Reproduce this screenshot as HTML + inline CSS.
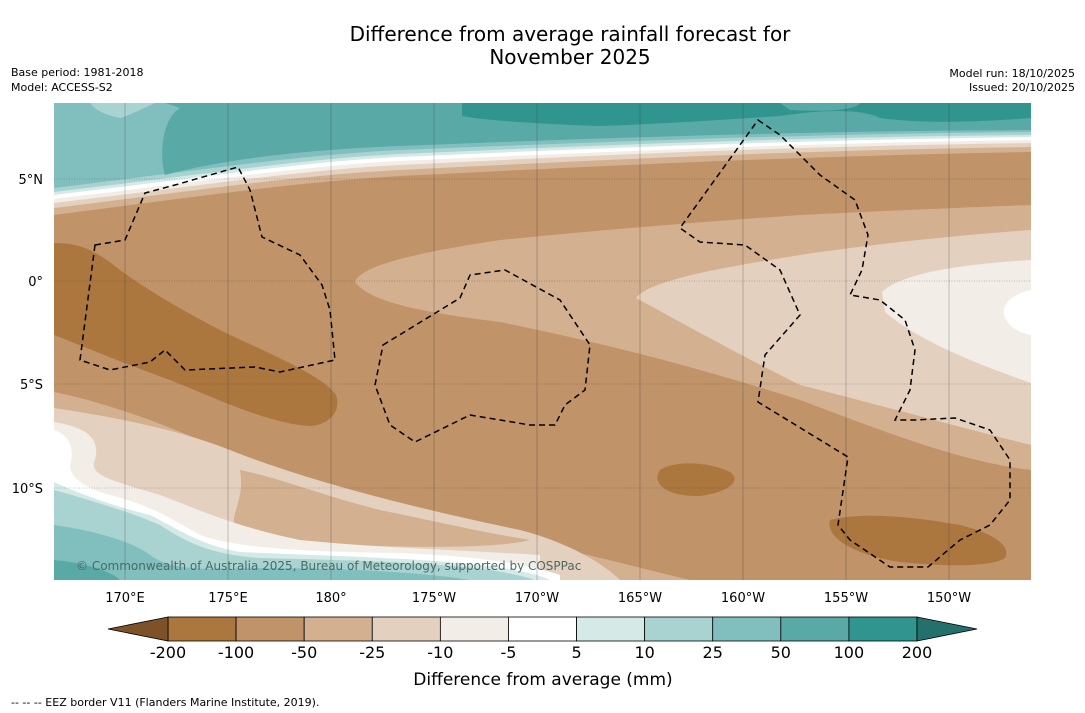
<!DOCTYPE html>
<html><head><meta charset="utf-8"><style>
body{margin:0;background:#fff;font-family:"DejaVu Sans","Liberation Sans",sans-serif;}
svg{display:block}
</style></head><body>
<svg id="root" width="1085" height="713" viewBox="0 0 1085 713" font-family="DejaVu Sans, Liberation Sans, sans-serif">
<text x="570" y="41" font-size="20" text-anchor="middle">Difference from average rainfall forecast for</text>
<text x="570" y="64" font-size="20" text-anchor="middle">November 2025</text>
<text x="11" y="76" font-size="11">Base period: 1981-2018</text>
<text x="11" y="91" font-size="11">Model: ACCESS-S2</text>
<text x="1075" y="77" font-size="11" text-anchor="end">Model run: 18/10/2025</text>
<text x="1075" y="91" font-size="11" text-anchor="end">Issued: 20/10/2025</text>
<defs><clipPath id="mc"><rect x="54" y="103" width="977" height="477"/></clipPath></defs>
<g clip-path="url(#mc)">
<rect x="54" y="103" width="977" height="477" fill="#c09368"/>
<path fill="#c09368" d="M54,215 C200,200 300,185 400,178 C600,168 800,158 1031,152 L1031,210 C900,214 700,225 500,240 C400,250 360,262 355,282 C320,260 250,228 54,240Z"/>
<path fill="#d3b08f" d="M54,103 L1031,103 L1031,152 C800,156 600,166 400,176 C300,182 200,196 54,215Z"/>
<path fill="#e4d0bf" d="M54,103 L1031,103 L1031,147 C800,150 600,160 400,170 C300,175 200,190 54,208Z"/>
<path fill="#f2ede7" d="M54,103 L1031,103 L1031,143 C800,146 600,155 400,165 C300,170 200,186 54,203Z"/>
<path fill="#ffffff" d="M54,103 L1031,103 L1031,140 C800,143 600,152 400,161 C300,166 200,182 54,199Z"/>
<path fill="#d5e9e7" d="M54,103 L1031,103 L1031,137 C800,140 600,148 400,157 C300,162 200,178 54,195Z"/>
<path fill="#a8d3d1" d="M54,103 L1031,103 L1031,135 C800,137 600,145 400,154 C300,159 200,175 54,192Z"/>
<path fill="#80bfbd" d="M54,103 L1031,103 L1031,132 C800,134 600,142 400,150 C300,155 200,170 54,188Z"/>
<path fill="#59a9a7" d="M165,103 L1031,103 L1031,130 C800,131 600,138 400,146 C300,150 220,160 165,175 C160,160 160,120 180,108Z"/>
<path fill="#a8d3d1" d="M90,103 L155,103 C140,110 130,115 120,118 C105,115 95,110 90,103Z"/>
<path fill="#31958f" d="M462,103 L1031,103 L1031,118 C980,122 920,124 880,118 C860,108 820,110 780,116 C720,120 660,124 600,126 C540,124 480,120 462,116Z"/>
<path fill="#59a9a7" d="M780,103 L860,103 C855,110 830,112 790,110Z"/>
<path fill="#d3b08f" d="M355,282 C360,268 400,255 500,240 C600,230 700,222 800,215 C900,210 1000,206 1031,205 L1031,470 C960,462 880,430 800,400 C700,368 600,342 500,322 C420,312 370,302 355,282Z"/>
<path fill="#e4d0bf" d="M636,298 C650,280 720,268 800,255 C900,240 1000,232 1031,230 L1031,445 C950,425 880,405 800,385 C740,355 680,322 636,298Z"/>
<path fill="#f2ede7" d="M882,292 C900,275 950,265 1031,260 L1031,383 C980,365 920,342 885,312Z"/>
<path fill="#ffffff" d="M1031,290 C1010,295 1000,305 1005,318 C1010,328 1020,333 1031,335Z"/>
<path fill="#ab773f" d="M54,243 C80,243 95,250 120,270 C150,292 190,315 230,335 C280,358 325,378 336,395 C342,412 328,425 310,426 C270,424 220,400 170,380 C120,362 80,345 54,335Z"/>
<path fill="#ab773f" d="M660,470 C675,460 710,462 730,472 C742,480 730,492 700,496 C670,497 650,485 660,470Z"/>
<path fill="#ab773f" d="M830,520 C860,512 910,516 960,525 C990,532 1012,545 1005,558 C990,568 940,566 900,562 C860,556 825,540 830,520Z"/>
<path fill="#d3b08f" d="M54,392 C120,405 200,438 260,468 C330,500 420,520 520,540 C580,552 640,568 690,580 L54,580Z"/>
<path fill="#e4d0bf" d="M54,408 C120,418 180,430 230,450 C300,478 400,505 520,530 C560,540 600,560 620,580 L54,580Z"/>
<path fill="#d3b08f" d="M240,470 C280,478 320,495 380,510 C430,520 480,532 530,540 C500,548 420,548 350,545 C300,545 245,540 235,525 C230,515 245,500 240,470Z" />
<path fill="#f2ede7" d="M54,422 C90,428 100,440 95,460 C88,475 110,480 160,495 C200,510 230,525 300,540 C380,548 460,550 540,555 L540,580 L54,580Z"/>
<path fill="#ffffff" d="M54,430 C70,435 75,450 70,465 C70,478 85,488 110,495 C150,505 170,518 200,535 C240,550 330,552 400,553 C470,556 520,562 560,575 L560,580 L54,580Z"/>
<path fill="#d5e9e7" d="M54,482 C80,494 110,505 150,515 C180,530 200,545 240,552 C330,556 420,558 480,565 C520,570 540,575 550,580 L54,580Z"/>
<path fill="#a8d3d1" d="M54,490 C90,500 130,512 160,525 C190,545 215,555 260,558 C340,560 430,562 490,570 C515,574 530,578 535,580 L54,580Z"/>
<path fill="#80bfbd" d="M54,525 C90,530 130,540 150,555 C170,570 200,570 260,568 C340,568 420,572 470,580 L54,580Z"/>
<path fill="#59a9a7" d="M54,560 C80,562 110,570 120,580 L54,580Z"/>
<g stroke="#333" stroke-width="0.5" stroke-opacity="0.55">
<line x1="125" y1="103" x2="125" y2="580"/><line x1="228" y1="103" x2="228" y2="580"/><line x1="331" y1="103" x2="331" y2="580"/><line x1="434" y1="103" x2="434" y2="580"/><line x1="537" y1="103" x2="537" y2="580"/><line x1="640" y1="103" x2="640" y2="580"/><line x1="743" y1="103" x2="743" y2="580"/><line x1="846" y1="103" x2="846" y2="580"/><line x1="949" y1="103" x2="949" y2="580"/>
<line x1="54" y1="179" x2="1031" y2="179" stroke-dasharray="1,1.5"/><line x1="54" y1="281" x2="1031" y2="281" stroke-dasharray="1,1.5"/><line x1="54" y1="384" x2="1031" y2="384" stroke-dasharray="1,1.5"/><line x1="54" y1="488" x2="1031" y2="488" stroke-dasharray="1,1.5"/>
</g>
<g fill="none" stroke="#000" stroke-width="1.5" stroke-dasharray="6,4">
<path d="M95,245 L125,240 L145,193 L175,185 L238,167 L250,190 L262,237 L300,255 L322,285 L330,310 L335,360 L280,372 L255,367 L185,370 L165,350 L150,362 L110,370 L80,360 Z"/>
<path d="M383,345 L460,298 L470,275 L505,270 L560,300 L590,345 L585,390 L565,405 L555,425 L530,425 L470,415 L415,442 L390,425 L375,385 Z"/>
<path d="M758,120 L780,135 L820,175 L855,200 L868,235 L862,270 L850,295 L880,300 L905,320 L915,350 L910,390 L895,420 L915,420 L955,418 L990,430 L1010,460 L1010,500 L990,525 L960,540 L928,567 L890,567 L850,540 L838,525 L848,457 L758,402 L765,355 L800,315 L780,270 L745,245 L700,242 L680,228 Z"/>
</g>
<text x="76" y="570" font-size="12" fill="#4a6a68">© Commonwealth of Australia 2025, Bureau of Meteorology, supported by COSPPac</text>
</g>
<g font-size="13" text-anchor="middle">
<text x="125" y="602">170°E</text><text x="228" y="602">175°E</text><text x="331" y="602">180°</text><text x="434" y="602">175°W</text><text x="537" y="602">170°W</text><text x="640" y="602">165°W</text><text x="743" y="602">160°W</text><text x="846" y="602">155°W</text><text x="949" y="602">150°W</text>
</g>
<g font-size="13" text-anchor="end">
<text x="43" y="184">5°N</text><text x="43" y="286">0°</text><text x="43" y="389">5°S</text><text x="43" y="493">10°S</text>
</g>
<g id="cbar"></g>
<text x="543" y="685" font-size="17" text-anchor="middle">Difference from average (mm)</text>
<text x="11" y="706" font-size="11">-- -- -- EEZ border V11 (Flanders Marine Institute, 2019).</text>
</svg>
<script>
const levels=["-200","-100","-50","-25","-10","-5","5","10","25","50","100","200"];
const binColors=["#ab773f","#c09368","#d3b08f","#e4d0bf","#f2ede7","#ffffff","#d5e9e7","#a8d3d1","#80bfbd","#59a9a7","#31958f"];
const extColors=["#7d5228","#24706c"];
const NS="http://www.w3.org/2000/svg";
const g=document.getElementById('cbar');
const x0=168,x1=917,y0=617,h=24,w=(x1-x0)/binColors.length;
function mk(t,a){const e=document.createElementNS(NS,t);for(const k in a)e.setAttribute(k,a[k]);g.appendChild(e);return e;}
binColors.forEach((c,i)=>{const r=mk('rect',{x:x0+i*w,y:y0,width:w,height:h,fill:c,stroke:'#000','stroke-width':0.8});

});
const lt=mk('polygon',{points:`${x0},${y0} 108,${y0+h/2} ${x0},${y0+h}`,fill:extColors[0],stroke:'#000','stroke-width':0.8});


const rt=mk('polygon',{points:`${x1},${y0} 977,${y0+h/2} ${x1},${y0+h}`,fill:extColors[1],stroke:'#000','stroke-width':0.8});


levels.forEach((l,i)=>{const t=mk('text',{x:x0+i*w,y:658,'font-size':16,'text-anchor':'middle'});t.textContent=l;

});
</script>
</body></html>
